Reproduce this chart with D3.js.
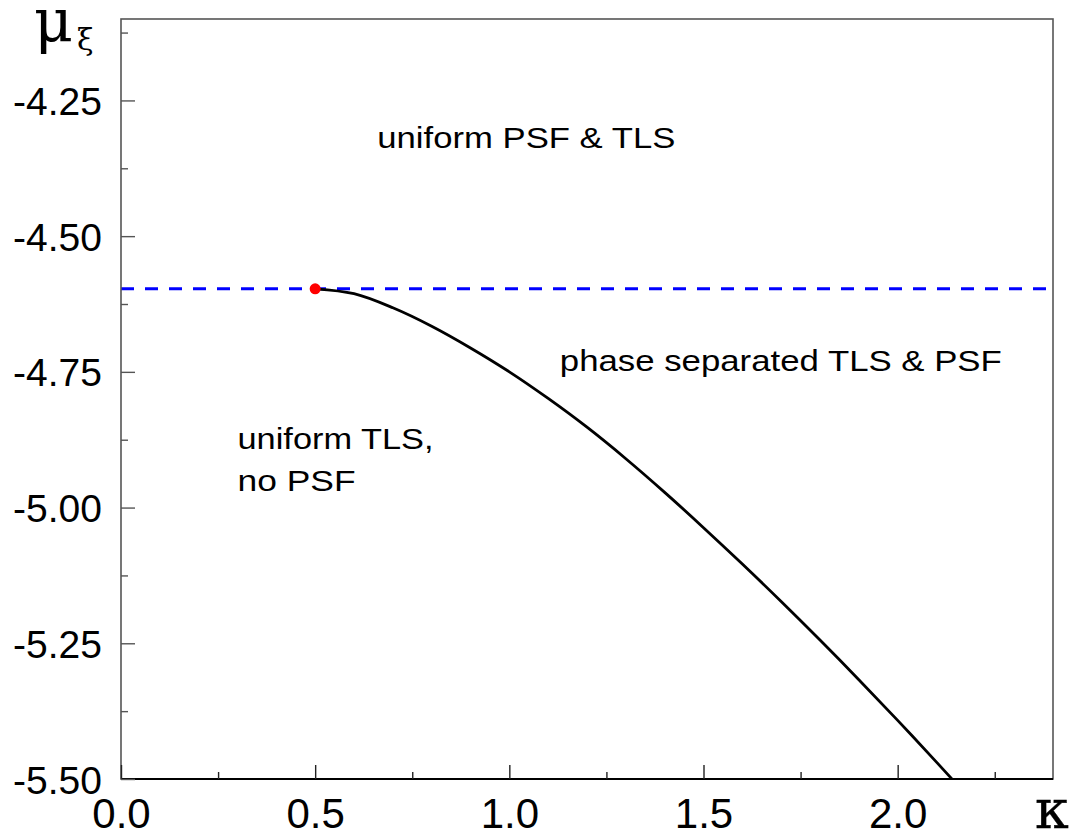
<!DOCTYPE html>
<html lang="en">

<head>
    <meta charset="UTF-8">
    <title>phase diagram</title>
    <script src="https://cdn.jsdelivr.net/npm/d3@7"></script>
    <style>
        body { margin: 0; background: #fff; }
        text { font-family: "Liberation Sans", Arial, sans-serif; }
    </style>
</head>

<body>
    <div class="content"></div>
    <script>
        // boundary curve mu(kappa)
        var kappa = [0.5, 0.6, 0.7, 0.8, 0.9, 1.0, 1.1, 1.2, 1.3, 1.4, 1.5, 1.6, 1.7, 1.8, 1.9, 2.0, 2.1, 2.15]
        var mu = [-4.597, -4.606, -4.632, -4.666, -4.706, -4.750, -4.799, -4.852, -4.910, -4.972, -5.037, -5.104, -5.173, -5.244, -5.317, -5.392, -5.469, -5.508]
        var muCrit = -4.597
        var critPoint = [0.5, -4.597]
        var xTicks = [0.0, 0.5, 1.0, 1.5, 2.0]
        var xMinor = [0.25, 0.75, 1.25, 1.75, 2.25]
        var yTicks = [-4.25, -4.50, -4.75, -5.00, -5.25, -5.50]
        var yMinor = [-4.125, -4.375, -4.625, -4.875, -5.125, -5.375]
        var regionLabels = [
            { k: 0.66, m: -4.338, lines: ["uniform PSF & TLS"], w: [298] },
            { k: 1.13, m: -4.749, lines: ["phase separated TLS & PSF"], w: [442] },
            { k: 0.3, m: -4.893, lines: ["uniform TLS,", "no PSF"], w: [196, 118] }
        ]

        var W = 1082, H = 839
        var padL = 121, padR = 1053, padT = 19, padB = 779

        var x = d3.scaleLinear().domain([0, 2.4]).range([padL, padR])
        var y = d3.scaleLinear().domain([-5.5, -4.1]).range([padB, padT])

        var svg = d3.select('.content').append('svg').attr('width', W).attr('height', H)
        svg.append('rect').attr('width', W).attr('height', H).attr('fill', '#fff')

        svg.append('clipPath').attr('id', 'plotclip').append('rect')
            .attr('x', padL).attr('y', padT).attr('width', padR - padL).attr('height', padB - padT)

        var plot = svg.append('g').attr('clip-path', 'url(#plotclip)')

        // dashed critical line
        plot.append('line')
            .attr('x1', x(0)).attr('x2', x(2.4)).attr('y1', y(muCrit)).attr('y2', y(muCrit))
            .attr('stroke', '#0000ff').attr('stroke-width', 3).attr('stroke-dasharray', '13,11')

        var pts = kappa.map((k, i) => [k, mu[i]])
        var line = d3.line().x(d => x(d[0])).y(d => y(d[1])).curve(d3.curveCatmullRom)
        plot.append('path').datum(pts).attr('d', line)
            .attr('fill', 'none').attr('stroke', '#000').attr('stroke-width', 2.8)

        plot.append('circle').attr('cx', x(critPoint[0])).attr('cy', y(critPoint[1])).attr('r', 5.5).attr('fill', '#ff0000')

        // frame
        svg.append('rect').attr('x', padL).attr('y', padT).attr('width', padR - padL).attr('height', padB - padT)
            .attr('fill', 'none').attr('stroke', '#555').attr('stroke-width', 1.6)
        svg.append('line').attr('x1', padL).attr('x2', padR).attr('y1', padB).attr('y2', padB)
            .attr('stroke', '#000').attr('stroke-width', 2.2)

        // axes with ticks pointing inside
        var xAxis = svg.append('g').attr('transform', 'translate(0,' + padB + ')')
            .call(d3.axisBottom(x).tickValues(xTicks).tickSize(-14).tickFormat(d => d.toFixed(1)))
        xAxis.append('g').call(d3.axisBottom(x).tickValues(xMinor).tickSize(-7).tickFormat(''))
        xAxis.selectAll('.domain').remove()
        xAxis.selectAll('.tick line').attr('stroke', '#222').attr('stroke-width', 1.4)
        xAxis.selectAll('.tick text').attr('dy', 0).attr('y', 49)
            .style('font-size', '42px').style('font-family', '"Liberation Sans", Arial, sans-serif').attr('fill', '#000')

        var yAxis = svg.append('g').attr('transform', 'translate(' + padL + ',0)')
            .call(d3.axisLeft(y).tickValues(yTicks).tickSize(-14).tickFormat(d => d.toFixed(2)))
        yAxis.append('g').call(d3.axisLeft(y).tickValues(yMinor).tickSize(-7).tickFormat(''))
        yAxis.selectAll('.domain').remove()
        yAxis.selectAll('.tick line').attr('stroke', '#555').attr('stroke-width', 1.4)
        yAxis.selectAll('.tick text').attr('x', -19).attr('dy', '0.36em')
            .style('font-size', '39px').style('font-family', '"Liberation Sans", Arial, sans-serif').attr('fill', '#000')

        // axis titles
        svg.append('text').attr('x', 1035).attr('y', 828)
            .style('font-family', '"DejaVu Serif", "Liberation Serif", serif').style('font-size', '54px')
            .attr('stroke', '#000').attr('stroke-width', 0.4).text('κ')
        var yt = svg.append('text').attr('x', 34).attr('y', 42)
            .style('font-family', '"DejaVu Serif", "Liberation Serif", serif').style('font-size', '60px')
        yt.append('tspan').text('μ')
        yt.append('tspan').attr('dx', 4).attr('dy', 8).style('font-size', '30px').text('ξ')

        // region labels
        regionLabels.forEach(r => {
            r.lines.forEach((s, i) => {
                svg.append('text').attr('x', x(r.k)).attr('y', y(r.m) + i * 42)
                    .attr('textLength', r.w[i]).attr('lengthAdjust', 'spacingAndGlyphs')
                    .style('font-size', '29px').attr('fill', '#000').text(s)
            })
        })
    </script>
</body>

</html>
